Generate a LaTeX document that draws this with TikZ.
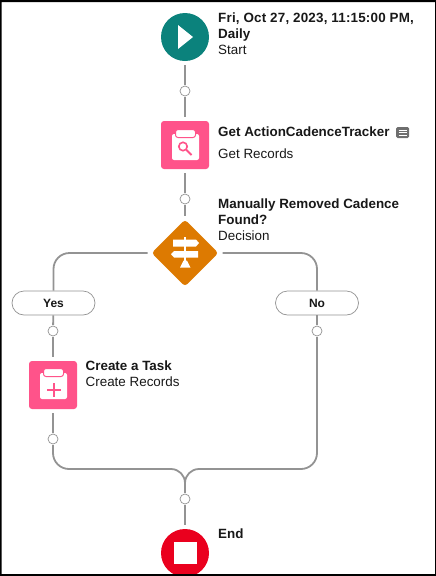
\documentclass[tikz,border=0pt]{standalone}
\usepackage{fontspec}
\setmainfont{Liberation Sans}
\usetikzlibrary{shapes.geometric}
\definecolor{tealc}{HTML}{0B827C}
\definecolor{pinkc}{HTML}{FF538A}
\definecolor{orangec}{HTML}{DD7A01}
\definecolor{redc}{HTML}{EA001E}
\definecolor{linec}{HTML}{939393}
\definecolor{inkc}{HTML}{181818}
\newcommand{\clipicon}[2]{\fill[white,rounded corners=2pt] (#1-13.5,#2-13) rectangle (#1+13.5,#2+13);
        \draw[fill=white,draw=pinkc,line width=1pt,rounded corners=2.5pt] (#1-10,#2-17.5) rectangle (#1+10,#2-9.5);}
\begin{document}
\begin{tikzpicture}
                [
                x=1pt,y=-1pt,
                flow/.style={draw=linec,line width=1.8pt},
                roundnode/.style={circle,minimum size=48pt,inner sep=0pt,outer sep=4pt},
                squarenode/.style={rectangle,fill=pinkc,minimum size=48pt,inner sep=0pt,outer sep=4pt,rounded corners=3pt},
                dot/.style={circle,draw=linec,fill=white,line width=0.7pt,minimum size=10pt,inner sep=0pt,outer sep=1.2pt},
                pill/.style={rectangle,rounded corners=12pt,draw=linec,fill=white,line width=0.7pt,minimum width=83pt,minimum height=24pt,inner sep=0pt,font=\fontsize{12}{14}\selectfont\bfseries,text=inkc},
                lab/.style={anchor=north west,align=left,inner sep=0pt,text=inkc,font=\fontsize{13.4}{16}\selectfont},
                ]
                \useasboundingbox (0,0) rectangle (436,576);
                \node[roundnode,fill=tealc] (start) at (185,37){};
                \node[dot] (dota) at (185,91){};
                \node[squarenode] (getrec) at (185,145){};
                \node[dot] (dotb) at (185,199){};
                \node[diamond,fill=orangec,minimum width=69pt,minimum height=69pt,inner sep=0pt,outer sep=3pt,rounded corners=3pt] (decide) at (185,253){};
                \node[pill] (yes) at (53.5,303){Yes};
                \node[pill] (no) at (317,303){No};
                \node[dot] (dotyes) at (53,331){};
                \node[dot] (dotno) at (317,331){};
                \node[squarenode] (create) at (53,385){};
                \node[dot] (dotc) at (53,439){};
                \node[dot] (dotd) at (185,499){};
                \node[roundnode,fill=redc] (stop) at (185,553){};
                \coordinate (join) at (185,469);

                \draw[flow] (start) -- (dota);
                \draw[flow] (dota) -- (getrec);
                \draw[flow] (getrec) -- (dotb);
                \draw[flow] (dotb) -- (decide);
                \draw[flow,rounded corners=16pt] (decide.west) -| (yes.north);
                \draw[flow,rounded corners=16pt] (decide.east) -| (no.north);
                \draw[flow] (yes) -- (dotyes);
                \draw[flow] (no) -- (dotno);
                \draw[flow] (dotyes) -- (create);
                \draw[flow] (create) -- (dotc);
                \draw[flow,rounded corners=16pt] (dotc.south) |- ([xshift=-20pt]join);
                \draw[flow,rounded corners=16pt] (dotno.south) |- ([xshift=20pt]join);
                \draw[flow,rounded corners=14pt] ([xshift=-20pt]join) -- (join) -- (dotd.north);
                \draw[flow,rounded corners=14pt] ([xshift=20pt]join) -- (join) -- (dotd.north);
                \draw[flow] (dotd) -- (stop);

                \fill[white] (178,25) -- (193,37) -- (178,49) -- cycle;
                \fill[white] (174,542) rectangle (197,564);
                \clipicon{185.5}{147}
                \draw[draw=pinkc,line width=1.6pt] (183,146.5) circle (4.2pt);
                \draw[draw=pinkc,line width=1.8pt] (186.2,149.7) -- (191.5,155);
                \clipicon{53.5}{386}
                \fill[pinkc] (46.5,388.5) rectangle (60.5,390.5);
                \fill[pinkc] (52.5,382.5) rectangle (54.5,396.5);
                \fill[white] (184,236.5) rectangle (186.4,262);
                \fill[white] (173,239.5) -- (196,239.5) -- (199,243) -- (196,246.5) -- (173,246.5) -- cycle;
                \fill[white] (174,251) -- (198,251) -- (198,257.5) -- (174,257.5) -- (171,254.2) -- cycle;
                \fill[white] (183.5,260.5) -- (186.9,260.5) -- (190.5,267.5) -- (180,267.5) -- cycle;

                \node[lab] (startlab) at (218,13){\textbf{\addfontfeature{LetterSpace=1.5}Fri, Oct 27, 2023, 11:15:00 PM,}\\\textbf{Daily}\\Start};
                \node[lab] (getlab) at (218,127){\textbf{Get ActionCadenceTracker}\\[6pt]Get Records};
                \fill[linec!75!black,rounded corners=1.5pt] (396,127) rectangle (409,138);
                \draw[white,line width=0.8pt] (398.5,130) -- (406.5,130) (398.5,132.5) -- (406.5,132.5) (398.5,135) -- (406.5,135);
                \node[lab] (decidelab) at (218,199){\textbf{Manually Removed Cadence}\\\textbf{Found?}\\Decision};
                \node[lab] (createlab) at (85.5,361){\textbf{Create a Task}\\Create Records};
                \node[lab] (stoplab) at (218,529){\textbf{End}};

                \fill[black,even odd rule] (0,0) rectangle (436,576) (1.5,2) rectangle (435,574);
            \end{tikzpicture}
\end{document}
